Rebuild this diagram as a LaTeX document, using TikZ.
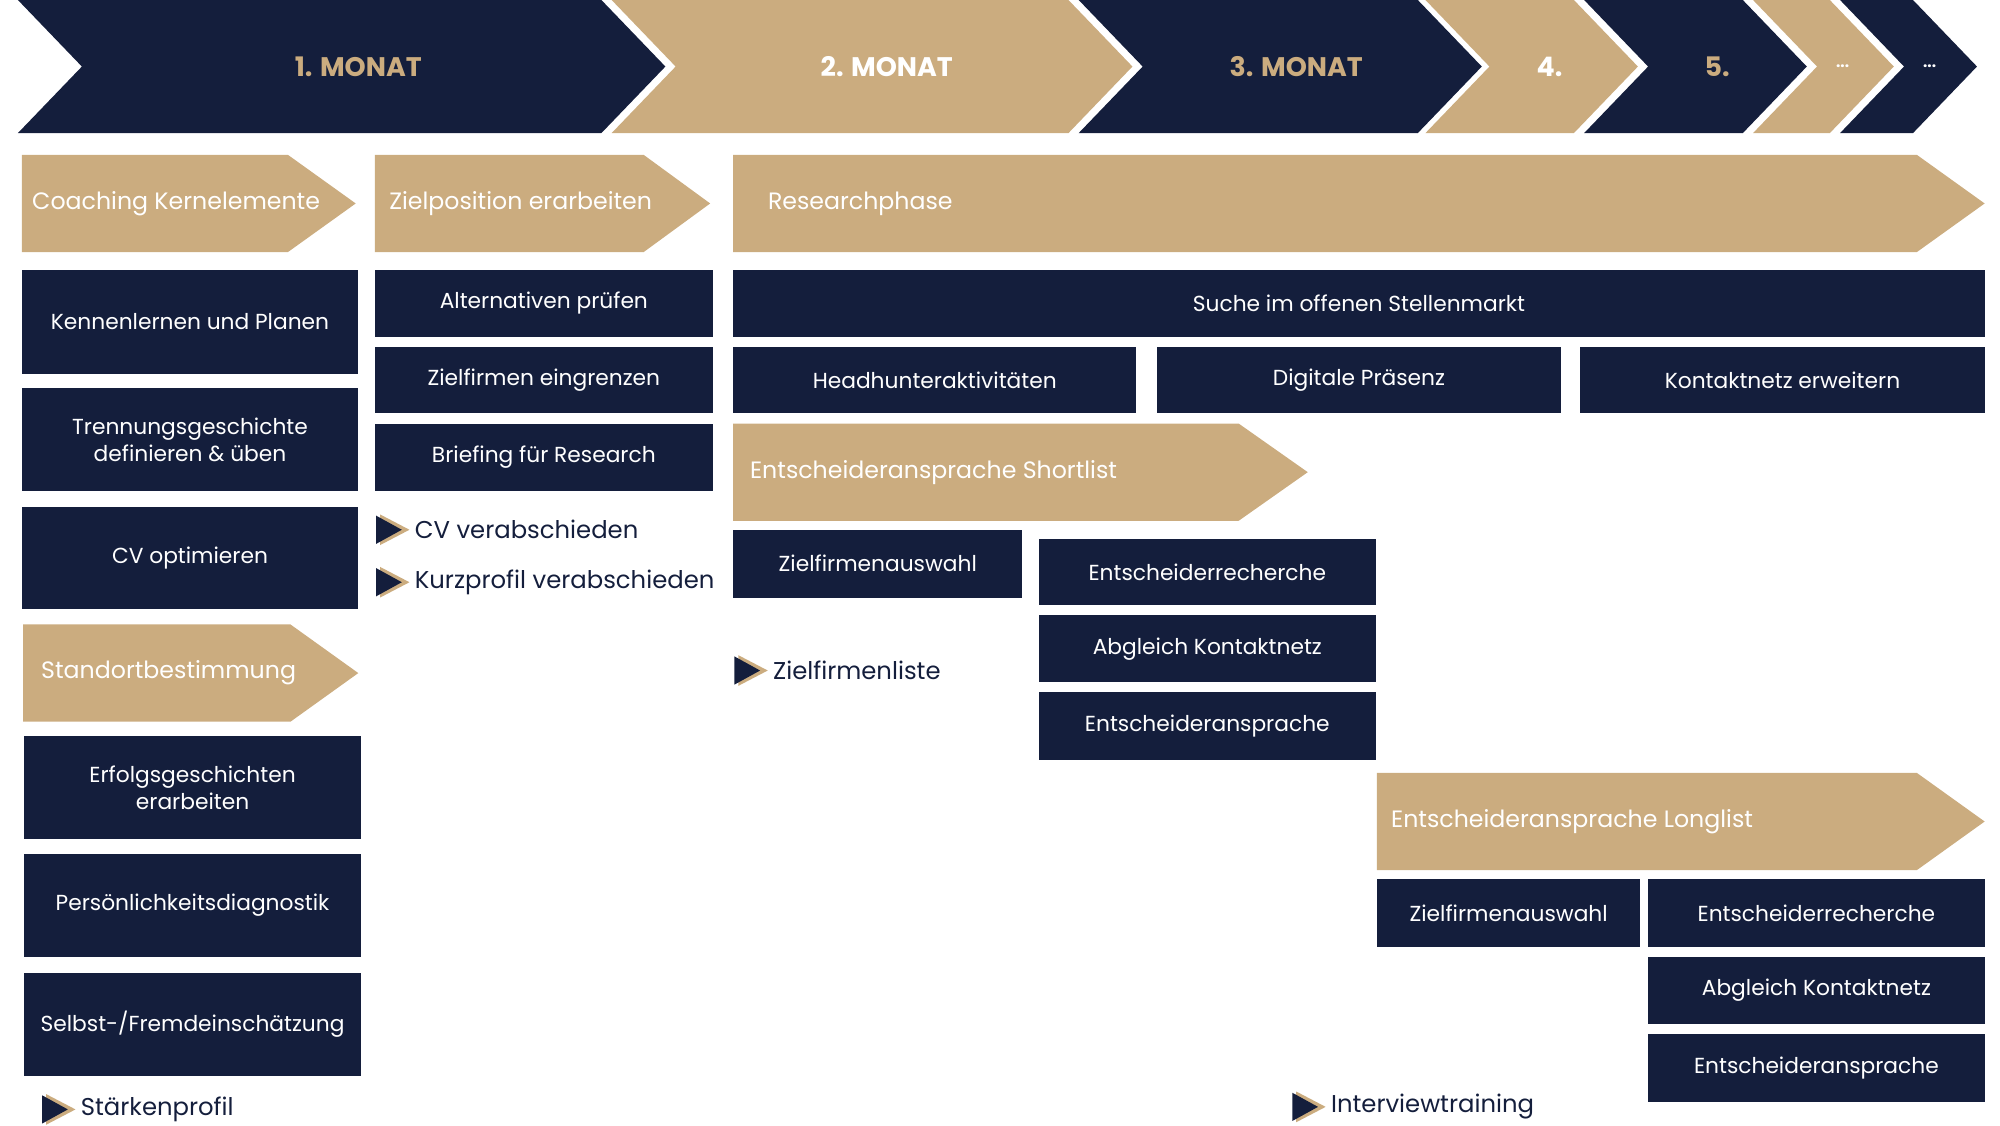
\documentclass[tikz,border=0pt]{standalone}
\usepackage{fontspec}
\setmainfont{Poppins}
\definecolor{navy}{HTML}{141E3C}
\definecolor{gold}{HTML}{CBAC7F}
\begin{document}
\begin{tikzpicture}[x=1pt,y=-1pt,
  box/.style={fill=navy,text=white,inner sep=0pt,font=\fontsize{17}{21}\selectfont,align=center},
  atxt/.style={text=white,anchor=west,inner sep=0pt,font=\fontsize{18.5}{22}\selectfont},
  mtxt/.style={inner sep=0pt,font=\fontsize{21}{24}\selectfont\bfseries},
  mstxt/.style={text=navy,anchor=west,inner sep=0pt,font=\fontsize{19}{22}\selectfont}]
\useasboundingbox (0,0) rectangle (1563,879.2);
\newcommand\chev[8]{% name L R tip col textx textcol text
  \fill[#5] (#2,0)--(#3,0)--(#4,52)--(#3,104)--(#2,104)--({#2+50},52)--cycle;
  \node[mtxt,text=#7] (#1) at (#6,52) {#8};}
\chev{m1}{14}{470}{520}{navy}{280}{gold}{1. MONAT}
\chev{m2}{478}{835}{885}{gold}{693}{white}{2. MONAT}
\chev{m3}{843}{1108}{1158}{navy}{1013}{gold}{3. MONAT}
\chev{m4}{1114}{1230}{1280}{gold}{1211}{white}{4.}
\chev{m5}{1238}{1362}{1412}{navy}{1342}{gold}{5.}
\chev{m6}{1370}{1430}{1480}{gold}{1440}{white}{\fontsize{12}{12}\selectfont...}
\chev{m7}{1438}{1495}{1545}{navy}{1508}{white}{\fontsize{12}{12}\selectfont...}
\newcommand\arr[8]{% name x1 y1 x2 y2 tip textx text
  \fill[gold] (#2,#3)--(#4,#3)--(#6,{(#3+#5)/2})--(#4,#5)--(#2,#5)--cycle;
  \node[atxt] (#1) at (#7,{(#3+#5)/2}) {#8};}
\newcommand\bx[6]{\node[box,minimum width={(#4-#2)*1pt},minimum height={(#5-#3)*1pt}] (#1) at ({(#2+#4)/2},{(#3+#5)/2}) {#6};}
\newcommand\ms[4]{% name x y text
  \fill[gold] (#2+3,#3-12)--(#2+26,#3)--(#2+3,#3+12)--cycle;
  \fill[navy] (#2,#3-11)--(#2+20,#3)--(#2,#3+11)--cycle;
  \node[mstxt] (#1) at (#2+30,#3) {#4};}
% column 1
\arr{a1}{17}{121}{225}{197}{278}{25}{Coaching Kernelemente}
\bx{b11}{17}{211}{280}{292}{Kennenlernen und Planen}
\bx{b12}{17}{303}{280}{384}{Trennungsgeschichte\\definieren \& üben}
\bx{b13}{17}{396}{280}{476}{CV optimieren}
\arr{a2}{18}{488}{227}{564}{280}{32}{Standortbestimmung}
\bx{b14}{19}{575}{282}{656}{Erfolgsgeschichten\\erarbeiten}
\bx{b15}{19}{667}{282}{748}{Persönlichkeitsdiagnostik}
\bx{b16}{19}{760}{282}{841}{Selbst-/Fremdeinschätzung}
\ms{s1}{33}{867}{Stärkenprofil}
% column 2
\arr{a3}{293}{121}{503}{197}{555}{304}{Zielposition erarbeiten}
\bx{b21}{293}{211}{557}{263}{Alternativen prüfen}
\bx{b22}{293}{271}{557}{323}{Zielfirmen eingrenzen}
\bx{b23}{293}{331}{557}{384}{Briefing für Research}
\ms{s2}{294}{414}{CV verabschieden}
\ms{s3}{294}{455}{Kurzprofil verabschieden}
% right
\arr{a4}{573}{121}{1498}{197}{1551}{600}{Researchphase}
\bx{b31}{573}{211}{1551}{263}{Suche im offenen Stellenmarkt}
\bx{b32}{573}{271}{888}{323}{Headhunteraktivitäten}
\bx{b33}{904}{271}{1220}{323}{Digitale Präsenz}
\bx{b34}{1235}{271}{1551}{323}{Kontaktnetz erweitern}
\arr{a5}{573}{331}{968}{407}{1022}{586}{Entscheideransprache Shortlist}
\bx{b41}{573}{414}{799}{467}{Zielfirmenauswahl}
\bx{b42}{812}{421}{1075}{473}{Entscheiderrecherche}
\bx{b43}{812}{481}{1075}{533}{Abgleich Kontaktnetz}
\bx{b44}{812}{541}{1075}{594}{Entscheideransprache}
\ms{s4}{574}{524}{Zielfirmenliste}
\arr{a6}{1076}{604}{1498}{680}{1551}{1087}{Entscheideransprache Longlist}
\bx{b51}{1076}{687}{1282}{740}{Zielfirmenauswahl}
\bx{b52}{1288}{687}{1551}{740}{Entscheiderrecherche}
\bx{b53}{1288}{748}{1551}{800}{Abgleich Kontaktnetz}
\bx{b54}{1288}{808}{1551}{861}{Entscheideransprache}
\ms{s5}{1010}{865}{Interviewtraining}
\end{tikzpicture}
\end{document}
